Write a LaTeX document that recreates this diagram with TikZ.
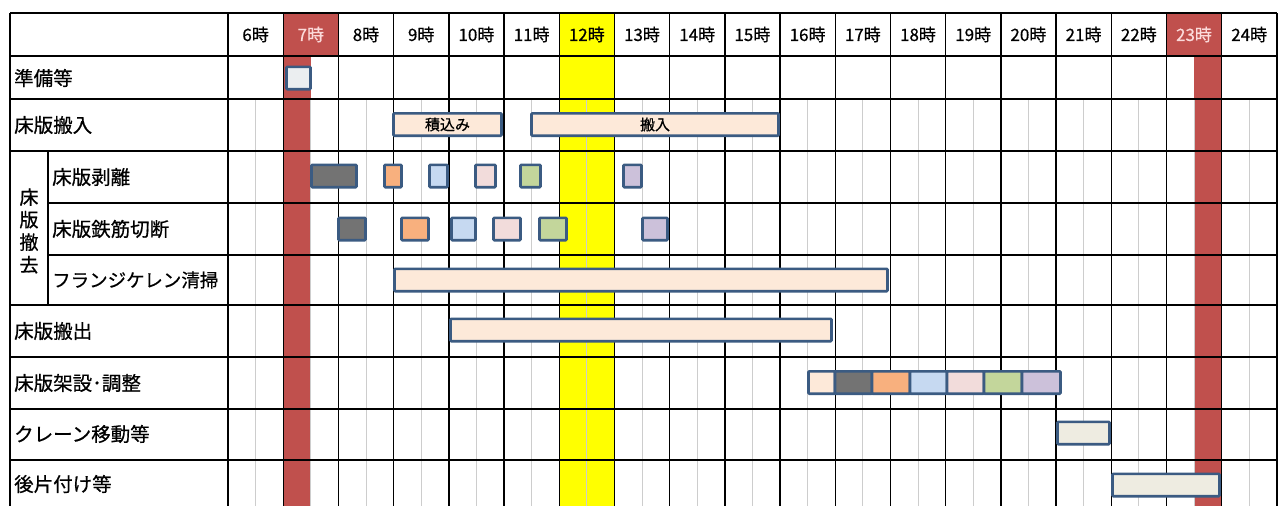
\documentclass[tikz,border=0pt]{standalone}
\usepackage{fontspec}
\usepackage[dvipsnames,svgnames,x11names]{xcolor}
\usepackage{tikz}
\usetikzlibrary{backgrounds, calc, positioning}
\newfontfamily\jpfont[FakeBold=0.6]{Noto Sans CJK JP}
\definecolor{barline}{HTML}{3B5B82}
\definecolor{hourred}{HTML}{C0504D}
\definecolor{hourtxt}{HTML}{FBDADA}
\definecolor{noon}{HTML}{FFFF00}
\definecolor{halfline}{HTML}{CDCDCD}
\definecolor{prep}{HTML}{EBEEF0}
\definecolor{peach}{HTML}{FDE9D9}
\definecolor{dgray}{HTML}{737373}
\definecolor{orng}{HTML}{F8B07E}
\definecolor{lblue}{HTML}{C6D9F1}
\definecolor{lpink}{HTML}{F2DCDB}
\definecolor{lgreen}{HTML}{C3D69B}
\definecolor{lpurple}{HTML}{CCC1DA}
\definecolor{beige}{HTML}{EEECE1}

\newcommand\task[6]{%
  \pgfmathsetmacro\taskw{#3-#2}%
  \pgfmathsetmacro\taskx{(#2+#3)/2}%
  \node[bar, fill=#5, minimum width=\taskw pt] (#1) at (\taskx,#4) {#6};}

\begin{document}
\begin{tikzpicture}[x=1pt, y=-1pt,
    bar/.style={draw=barline, line width=2.6pt, rounded corners=1pt, inner sep=0pt,
      minimum height=22.4pt, font=\jpfont\fontsize{15}{15}\selectfont},
    gridline/.style={line width=1.4pt, black},
    halfgrid/.style={line width=0.7pt, halfline},
    rowlab/.style={anchor=west, inner sep=0pt, font=\jpfont\fontsize{19.5}{19.5}\selectfont},
    hourlab/.style={inner sep=0pt, font=\jpfont\fontsize{17}{17}\selectfont},
  ]
  \useasboundingbox (0,0) rectangle (1279,506);
  \fill[white] (0,0) rectangle (1279,506);

  \fill[noon] (559.2,13) rectangle (614.4,506);
  \fill[hourred] (283.2,13) rectangle (338.4,56);
  \fill[hourred] (283.2,56) rectangle (311,506);
  \fill[hourred] (1166.4,13) rectangle (1221.6,56);
  \fill[hourred] (1194,56) rectangle (1221.6,506);

  \foreach \h in {6,...,24}
    \draw[halfgrid] ({228+(\h-5.5)*55.2},99) -- ({228+(\h-5.5)*55.2},506);

  \foreach \y in {13,56,99,151,305,357,409,460}
    \draw[gridline] (10,\y) -- (1276.8,\y);
  \foreach \y in {203,255}
    \draw[gridline] (48,\y) -- (1276.8,\y);
  \draw[gridline] (10,13) -- (10,506);
  \draw[gridline] (48,151) -- (48,305);
  \foreach \h in {6,...,25}
    \draw[gridline] ({228+(\h-6)*55.2},13) -- ({228+(\h-6)*55.2},506);

  \foreach \h in {6,...,24}{
    \pgfmathsetmacro\hx{228+(\h-5.5)*55.2}
    \ifnum\h=7 \def\hc{hourtxt}\else\ifnum\h=23 \def\hc{hourtxt}\else\def\hc{black}\fi\fi
    \node[hourlab, text=\hc] (h\h) at (\hx,34.5) {\h{}時};
  }

  \node[rowlab] (prep) at (14,78) {準備等};
  \node[rowlab] (bring) at (14,125) {床版搬入};
  \node[inner sep=0pt, align=center, font=\jpfont\fontsize{19}{22.5}\selectfont] (remove) at (29,231) {床\\版\\撤\\去};
  \node[rowlab] (peel) at (52,177) {床版剥離};
  \node[rowlab] (cut) at (52,229) {床版鉄筋切断};
  \node[rowlab, font=\jpfont\fontsize{18.5}{18.5}\selectfont] (clean) at (52,280) {フランジケレン清掃};
  \node[rowlab] (out) at (14,331) {床版搬出};
  \node[rowlab] (erect) at (14,383) {床版架設･調整};
  \node[rowlab] (crane) at (14,434) {クレーン移動等};
  \node[rowlab] (tidy) at (14,484) {後片付け等};

  \task{prepbox}{286.5}{310.5}{78}{prep}{}
  \task{loading}{393.5}{501.5}{124.5}{peach}{積込み}
  \task{carryin}{531.5}{778.5}{124.5}{peach}{搬入}

  \foreach \xa/\xb/\c [count=\i] in {311.5/356.5/dgray, 384.5/401.5/orng, 429.5/447.5/lblue,
      475.5/495.5/lpink, 520.5/540.5/lgreen, 623.5/641.5/lpurple}{
    \task{peel\i}{\xa}{\xb}{176}{\c}{}
  }
  \foreach \xa/\xb/\c [count=\i] in {338.5/365.5/dgray, 401.5/428.5/orng, 451.5/475.5/lblue,
      493.5/520.5/lpink, 539.5/566.5/lgreen, 642.5/667.5/lpurple}{
    \task{cut\i}{\xa}{\xb}{229}{\c}{}
  }

  \task{cleanbar}{394.5}{887.5}{280}{peach}{}
  \task{outbar}{450.5}{831.5}{330}{peach}{}

  \foreach \xa/\xb/\c [count=\i] in {808.5/835/peach, 835/872/dgray, 872/910/orng, 910/947/lblue,
      947/984/lpink, 984/1022/lgreen, 1022/1060.5/lpurple}{
    \task{erect\i}{\xa}{\xb}{382.5}{\c}{}
  }

  \task{cranebar}{1057.5}{1109.5}{433}{beige}{}
  \task{tidybar}{1112.5}{1219.5}{485}{beige}{}
\end{tikzpicture}
\end{document}
